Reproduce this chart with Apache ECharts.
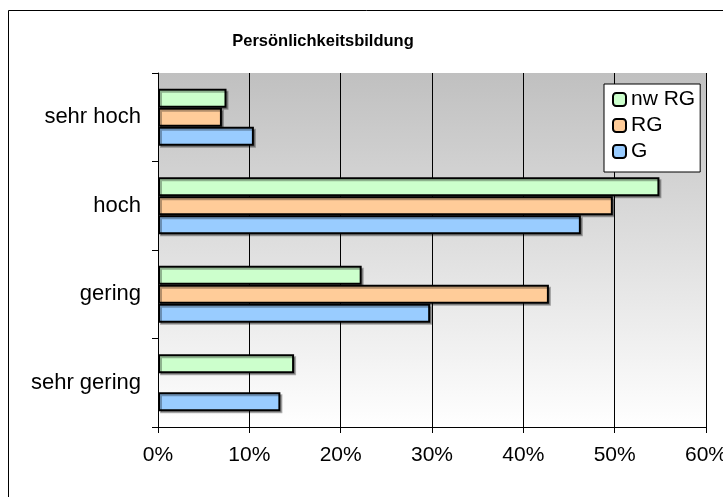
<!DOCTYPE html>
<html>
<head>
    <meta charset="utf-8">
    <title>Persönlichkeitsbildung</title>
</head>
<body style="margin:0;">
    <div id="main" style="width: 723px;height:497px;"></div>
    <script src="https://cdn.jsdelivr.net/npm/echarts@6/dist/echarts.min.js"></script>
    <script type="text/javascript">
        var categories = ['sehr hoch', 'hoch', 'gering', 'sehr gering'];
        var seriesNames = ['nw RG', 'RG', 'G'];
        var nwRG = [7.5, 54.9, 22.3, 14.9];
        var RG = [7.0, 49.8, 42.8, 0];
        var G = [10.5, 46.3, 29.8, 13.4];
        var xTicks = [0, 10, 20, 30, 40, 50, 60];
        var colors = ['#ccffcc', '#ffcc99', '#99ccff'];

        var myChart = echarts.init(document.getElementById('main'));
        var values = [nwRG, RG, G];
        var fontFam = '"Liberation Sans", Arial, sans-serif';

        var option = {
            animation: false,
            backgroundColor: '#ffffff',
            title: {
                text: 'Persönlichkeitsbildung',
                left: 318,
                top: 28,
                textAlign: 'center',
                textStyle: {fontFamily: fontFam, fontSize: 16.5, fontWeight: 'bold', color: '#000'}
            },
            legend: {
                data: seriesNames,
                orient: 'vertical',
                left: 604,
                top: 84,
                itemWidth: 13,
                itemHeight: 13,
                itemGap: 5,
                padding: [5, 5, 10, 8],
                backgroundColor: '#ffffff',
                borderColor: '#000',
                borderWidth: 1,
                borderRadius: 0,
                textStyle: {fontFamily: fontFam, fontSize: 21, color: '#000'}
            },
            grid: {left: 158, right: 17, top: 73, bottom: 70,
                outerBoundsMode: 'none',
                show: true, borderWidth: 0,
                backgroundColor: new echarts.graphic.LinearGradient(0, 0, 0, 1, [
                    {offset: 0, color: '#c0c0c0'},
                    {offset: 1, color: '#ffffff'}
                ])
            },
            xAxis: {
                type: 'value',
                min: xTicks[0],
                max: xTicks[xTicks.length - 1],
                interval: 10,
                axisLine: {show: true, lineStyle: {color: '#000', width: 1}},
                axisTick: {show: true, length: 6, lineStyle: {color: '#000'}},
                splitLine: {show: true, lineStyle: {color: '#000', width: 1}},
                axisLabel: {formatter: '{value}%', fontFamily: fontFam, fontSize: 21, color: '#000', margin: 18}
            },
            yAxis: {
                type: 'category',
                inverse: true,
                data: categories,
                axisLine: {show: true, lineStyle: {color: '#000', width: 1}},
                axisTick: {show: true, length: 6, lineStyle: {color: '#000'}},
                axisLabel: {fontFamily: fontFam, fontSize: 22, color: '#000', margin: 17}
            },
            series: seriesNames.map(function (name, i) {
                return {
                    name: name,
                    type: 'bar',
                    // a value of 0 is not drawn at all in the original
                    data: values[i].map(function (v) { return v === 0 ? '-' : v; }),
                    barWidth: 19,
                    barGap: '0%',
                    itemStyle: {
                        color: colors[i],
                        borderColor: '#000',
                        borderWidth: 2,
                        shadowColor: 'rgba(0,0,0,0.3)',
                        shadowOffsetX: 2,
                        shadowOffsetY: 2
                    }
                };
            }),
            graphic: [{
                type: 'rect',
                shape: {x: 8.5, y: 10.5, width: 800, height: 600},
                style: {fill: null, stroke: '#000', lineWidth: 1},
                silent: true,
                z: 100
            }]
        };
        myChart.setOption(option);
    </script>
</body>
</html>
